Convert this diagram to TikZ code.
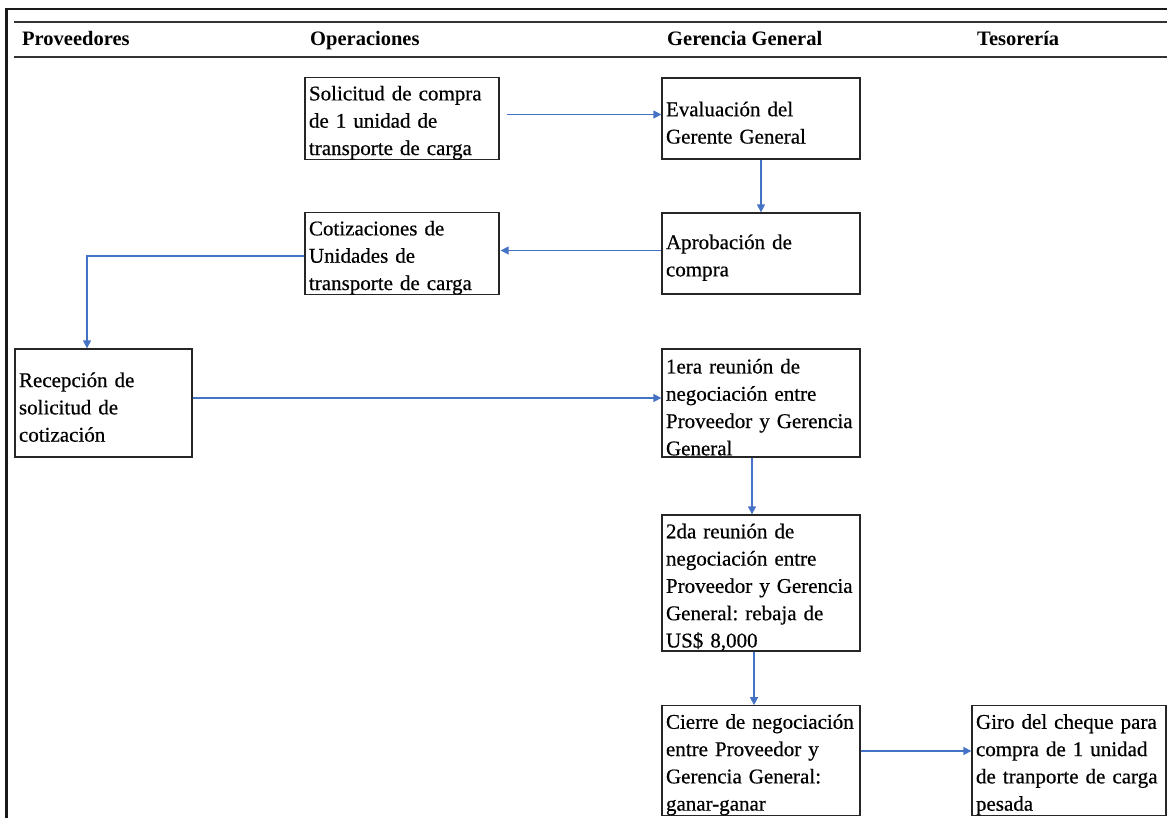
\documentclass[tikz,border=0pt]{standalone}
\usepackage{fontspec}
\setmainfont{Liberation Serif}
\newfontfamily\cajafont[FakeBold=0.5]{Liberation Serif}
\usepackage{tikz}
\usetikzlibrary{calc,arrows.meta}
\definecolor{azul}{HTML}{4472C4}
\definecolor{gris}{HTML}{333333}
\frenchspacing

\begin{document}
\begin{tikzpicture}[x=1pt, y=-1pt,
    caja/.style={draw=black!85, line width=1.3pt, align=left, inner xsep=4pt, inner ysep=0pt,
                 font=\cajafont\fontsize{21}{27.3}\selectfont,
                 execute at begin node={\rule{0pt}{23pt}}},
    flecha/.style={azul, line width=1.4pt, -{Triangle[length=8pt,width=8pt]}},
    titulo/.style={anchor=base west, inner sep=0pt, font=\fontsize{20.5}{24}\selectfont\bfseries}]

\useasboundingbox (0,0) rectangle (1167,818);



 \draw [black!90, line width=2.4pt] (1167,9) -- (6.5,9) -- (6.5,818);
 \draw [gris, line width=2pt] (14,22) -- (1167,22);
 \draw [gris, line width=1.6pt] (14,57) -- (1167,57);

     \node[titulo] (prov) at (22,46)  {Proveedores};
     \node[titulo] (oper) at (310,46) {Operaciones};
     \node[titulo] (gere) at (667,46) {Gerencia General};
     \node[titulo] (teso) at (977,46) {Tesorería};


     \node[caja, text width=186pt, minimum height=81pt] (sol) at (402,118.5)
        {Solicitud de compra\\de 1 unidad de\\transporte de carga};
     \node[caja, text width=190pt, minimum height=81pt] (eva) at (761,118.5)
        {Evaluación del\\Gerente General};
     \node[caja, text width=190pt, minimum height=81pt] (apr) at (761,253.5)
        {Aprobación de\\compra};
     \node[caja, text width=186pt, minimum height=81pt] (cot) at (402,253.5)
        {Cotizaciones de\\Unidades de\\transporte de carga};
     \node[caja, text width=169pt, minimum height=108pt] (rec) at (103.5,403)
        {Recepción de\\solicitud de\\cotización};
     \node[caja, text width=190pt, minimum height=108pt] (reu1) at (761,403)
        {1era reunión de\\negociación entre\\Proveedor y Gerencia\\General};
     \node[caja, text width=190pt, minimum height=136pt] (reu2) at (761,583)
        {2da reunión de\\negociación entre\\Proveedor y Gerencia\\General: rebaja de\\US\$ 8,000};
     \node[caja, text width=190pt, minimum height=109pt] (cie) at (761,760.5)
        {Cierre de negociación\\entre Proveedor y\\Gerencia General:\\ganar-ganar};
     \node[caja, text width=186pt, minimum height=109pt] (giro) at (1069,760.5)
        {Giro del cheque para\\compra de 1 unidad\\de tranporte de carga\\pesada};


   % flechas
   \draw[flecha, shorten <=7pt] ([yshift=4pt]sol.east) -- ([yshift=4pt]eva.west);
   \draw[flecha] (eva.south) -- (apr.north);
   \draw[flecha, shorten >=1pt] ([yshift=3pt]apr.west) -- ([yshift=3pt]cot.east);
   \draw[flecha] ([yshift=-2.5pt]cot.west) -| ([xshift=-16.5pt]rec.north);
   \draw[flecha] ([yshift=5pt]rec.east) -- ([yshift=5pt]reu1.west);
   \draw[flecha] ([xshift=-9pt]reu1.south) -- ([xshift=-9pt]reu2.north);
   \draw[flecha] ([xshift=-7pt]reu2.south) -- ([xshift=-7pt]cie.north);
   \draw[flecha] ([yshift=9.5pt]cie.east) -- ([yshift=9.5pt]giro.west);

\end{tikzpicture}
\end{document}
